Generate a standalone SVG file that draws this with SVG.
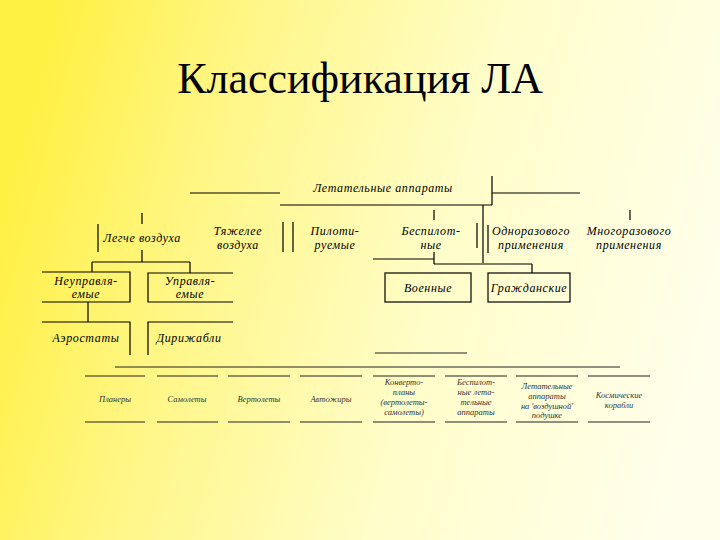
<svg xmlns="http://www.w3.org/2000/svg" width="720" height="540" viewBox="0 0 720 540">
<defs>
<linearGradient id="bg" x1="0" y1="0.4" x2="1" y2="0.6">
<stop offset="0" stop-color="#FFF044"/>
<stop offset="0.25" stop-color="#FFF684"/>
<stop offset="0.6" stop-color="#FFFDC8"/>
<stop offset="1" stop-color="#FFFFEC"/>
</linearGradient>
<style>
.ln{stroke:#000;stroke-width:1.2;fill:none}
.lt{stroke:#222;stroke-width:1;fill:none}
.t{font-family:"Liberation Serif","DejaVu Serif",serif;font-style:italic;font-size:12px;fill:#000;text-anchor:middle;letter-spacing:0.6px}
.s{font-family:"Liberation Serif","DejaVu Serif",serif;font-style:italic;font-size:8.5px;fill:#333;text-anchor:middle}
.title{font-family:"Liberation Serif","Times New Roman","DejaVu Serif",serif;font-size:44px;fill:#000;text-anchor:middle}
</style>
</defs>
<rect width="720" height="540" fill="url(#bg)"/>
<text class="title" x="360" y="93">Классификация ЛА</text>

<g id="connectors">
<path class="ln" d="M190 193H280M280 205H492M492 176V205M492 193H580"/>
<path class="ln" d="M483 205V263M434 210V220M630 210V220"/>
<path class="ln" d="M142 213V224M142 250V262M92 262H190M92 262V272M190 262V273"/>
<path class="ln" d="M88 302V322"/>
<path class="ln" d="M373 259H434M434 252V264M434 264H532M532 264V273"/>
<path class="lt" d="M375 353H467M115 367H620"/>
</g>

<g id="root"><text class="t" x="383" y="192">Летательные аппараты</text></g>

<g id="lighter"><path class="ln" d="M98 224V252"/><text class="t" x="142" y="242">Легче воздуха</text></g>
<g id="heavier"><text class="t" x="238" y="235">Тяжелее</text><text class="t" x="238" y="249">воздуха</text></g>
<g id="piloted"><path class="ln" d="M283 222V252M293 222V252"/><text class="t" x="335" y="235">Пилоти-</text><text class="t" x="335" y="249">руемые</text></g>
<g id="unmanned"><text class="t" x="431" y="235">Беспилот-</text><text class="t" x="431" y="249">ные</text></g>
<g id="single"><path class="ln" d="M477 223V248M488 225V253"/><text class="t" x="531" y="235">Одноразового</text><text class="t" x="531" y="249">применения</text></g>
<g id="multi"><text class="t" x="629" y="235">Многоразового</text><text class="t" x="629" y="249">применения</text></g>

<g id="uncontrolled"><path class="ln" d="M42 272H130V302H42"/><text class="t" x="86" y="285">Неуправля-</text><text class="t" x="86" y="298">емые</text></g>
<g id="controlled"><path class="ln" d="M233 273H148V302H233"/><text class="t" x="190" y="285">Управля-</text><text class="t" x="190" y="298">емые</text></g>
<g id="aerostats"><path class="ln" d="M42 322H130V355"/><text class="t" x="86" y="342">Аэростаты</text></g>
<g id="airships"><path class="ln" d="M233 322H148V355"/><text class="t" x="189" y="342">Дирижабли</text></g>

<g id="military"><rect class="ln" x="385" y="273" width="86" height="29"/><text class="t" x="428" y="292">Военные</text></g>
<g id="civil"><rect class="ln" x="488" y="273" width="82" height="29"/><text class="t" x="529" y="292">Гражданские</text></g>

<g id="gliders"><path class="lt" d="M85 376H145M85 422H145"/><text class="s" x="115" y="402">Планеры</text></g>
<g id="planes"><path class="lt" d="M157 376H218M157 422H218"/><text class="s" x="187" y="402">Самолеты</text></g>
<g id="helicopters"><path class="lt" d="M228 376H290M228 422H290"/><text class="s" x="259" y="402">Вертолеты</text></g>
<g id="autogyros"><path class="lt" d="M300 376H362M300 422H362"/><text class="s" x="331" y="402">Автожиры</text></g>
<g id="convertiplanes"><path class="lt" d="M373 376H435M373 422H435"/><text class="s" x="404" y="385">Конверто-</text><text class="s" x="404" y="395">планы</text><text class="s" x="404" y="405">(вертолеты-</text><text class="s" x="404" y="415">самолеты)</text></g>
<g id="uav"><path class="lt" d="M445 376H507M445 422H507"/><text class="s" x="476" y="385">Беспилот-</text><text class="s" x="476" y="395">ные лета-</text><text class="s" x="476" y="405">тельные</text><text class="s" x="476" y="415">аппараты</text></g>
<g id="hovercraft"><path class="lt" d="M516 376H578M516 422H578"/><text class="s" x="547" y="389">Летательные</text><text class="s" x="547" y="399">аппараты</text><text class="s" x="547" y="409">на 'воздушной'</text><text class="s" x="547" y="418">подушке</text></g>
<g id="spacecraft"><path class="lt" d="M588 376H650M588 422H650"/><text class="s" x="619" y="398">Космические</text><text class="s" x="619" y="408">корабли</text></g>
</svg>
